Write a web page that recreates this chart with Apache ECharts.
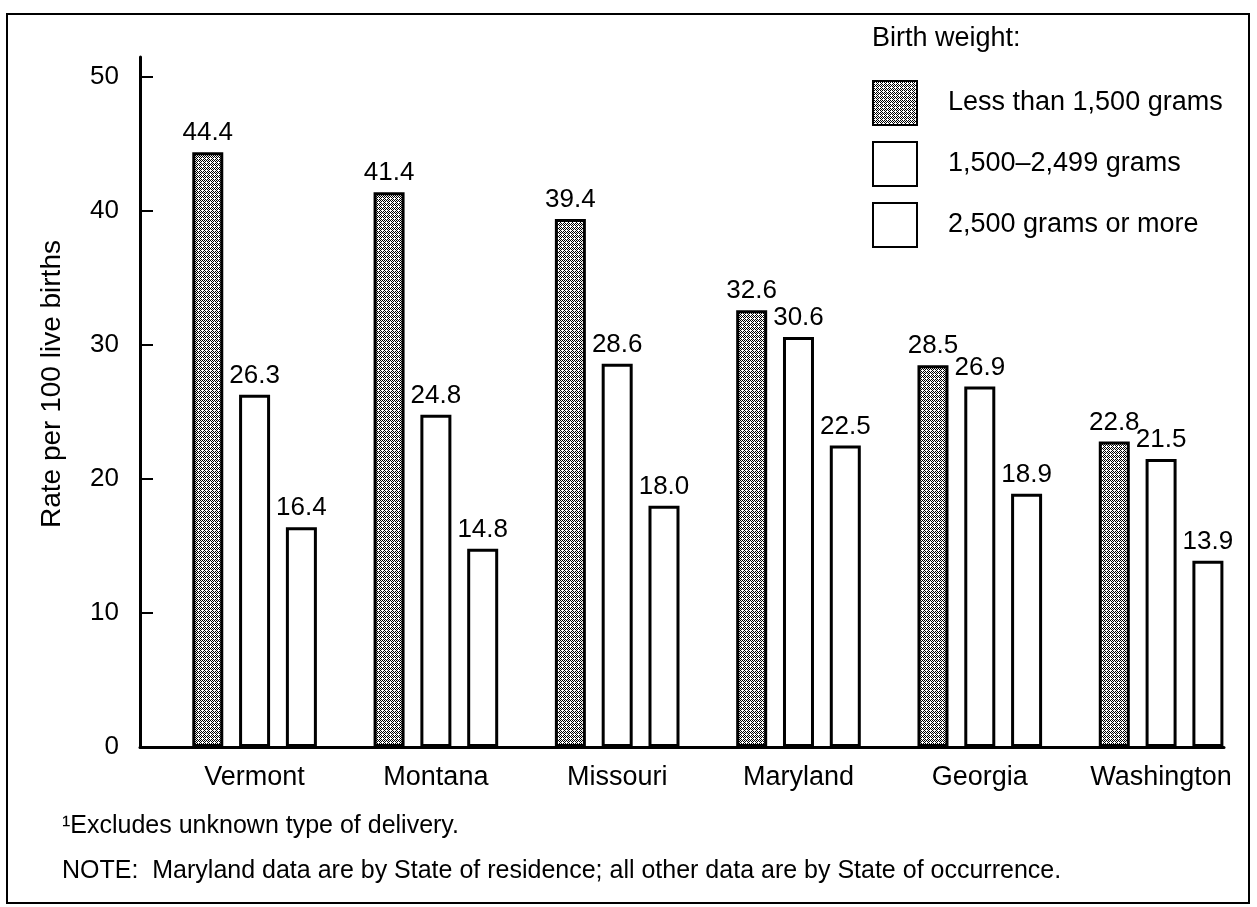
<!DOCTYPE html>
<html>
<head>
<meta charset="utf-8">
<script src="https://cdn.jsdelivr.net/npm/echarts@6/dist/echarts.min.js"></script>
<style>
  html, body { margin: 0; padding: 0; background: #fff; }
  #chart { width: 1257px; height: 907px; }
</style>
</head>
<body>
<div id="chart"></div>
<script>
// Cesarean rates by birth weight, selected States
const states = ['Vermont', 'Montana', 'Missouri', 'Maryland', 'Georgia', 'Washington'];
const seriesNames = ['Less than 1,500 grams', '1,500–2,499 grams', '2,500 grams or more'];
const under1500 = [44.4, 41.4, 39.4, 32.6, 28.5, 22.8];
const from1500to2499 = [26.3, 24.8, 28.6, 30.6, 26.9, 21.5];
const over2500 = [16.4, 14.8, 18.0, 22.5, 18.9, 13.9];
const yTicks = [0, 10, 20, 30, 40, 50];
const stateSlots = [0, 1, 2, 3, 4, 5];

const legendTitle = 'Birth weight:';
const yAxisTitle = 'Rate per 100 live births';
const footnote = '\u00B9Excludes unknown type of delivery.';
const note = 'NOTE:  Maryland data are by State of residence; all other data are by State of occurrence.';

const FONT = '"Liberation Sans", Arial, Helvetica, sans-serif';

// Dot-screen fill used for the lowest birth-weight group
function stipple() {
  const c = document.createElement('canvas');
  c.width = 4; c.height = 4;
  const ctx = c.getContext('2d');
  ctx.fillStyle = '#fff';
  ctx.fillRect(0, 0, 4, 4);
  ctx.fillStyle = '#000';
  [[0, 0], [2, 0], [1, 1], [3, 1], [0, 2], [1, 3], [3, 3]].forEach(([x, y]) => ctx.fillRect(x, y, 1, 1));
  return c;
}

const fills = [{ image: stipple(), repeat: 'repeat' }, '#fff', '#fff'];
const values = [under1500, from1500to2499, over2500];

const series = seriesNames.map((name, k) => ({
  name,
  type: 'bar',
  data: states.map((s, i) => [stateSlots[i], values[k][i]]),
  barWidth: 31,
  barGap: '51%',
  itemStyle: { color: fills[k], borderColor: '#000', borderWidth: 3 },
  label: {
    show: true,
    position: 'top',
    distance: 6,
    fontFamily: FONT,
    fontSize: 26,
    color: '#000',
    formatter: p => p.value[1].toFixed(1)
  }
}));

const chart = echarts.init(document.getElementById('chart'), null, { renderer: 'canvas' });
chart.setOption({
  animation: false,
  backgroundColor: '#fff',
  textStyle: { fontFamily: FONT, color: '#000' },
  title: {
    text: legendTitle,
    left: 872,
    top: 25,
    padding: 0,
    textStyle: { fontFamily: FONT, fontSize: 27, fontWeight: 'normal', color: '#000' }
  },
  legend: {
    orient: 'vertical',
    left: 872,
    top: 80,
    padding: 0,
    icon: 'rect',
    itemWidth: 44,
    itemHeight: 44,
    itemGap: 15,
    selectedMode: false,
    data: seriesNames,
    textStyle: { fontFamily: FONT, fontSize: 27, color: '#000', padding: [0, 0, 0, 26] }
  },
  grid: { left: 140, right: 33, top: 57, bottom: 160, outerBoundsMode: 'none' },
  xAxis: {
    type: 'value',
    min: -0.632,
    max: 5.347,
    axisLine: { show: true, onZero: false, lineStyle: { color: '#000', width: 3 } },
    axisTick: { show: false },
    splitLine: { show: false },
    axisLabel: {
      customValues: stateSlots,
      formatter: v => states[Math.round(v)],
      margin: 17,
      fontFamily: FONT,
      fontSize: 27,
      color: '#000'
    }
  },
  yAxis: {
    type: 'value',
    min: 0,
    max: 51.5,
    name: yAxisTitle,
    nameLocation: 'middle',
    nameGap: 74,
    nameRotate: 90,
    nameTextStyle: { fontFamily: FONT, fontSize: 28, color: '#000', padding: [0, 0, 0, 36] },
    axisLine: { show: true, onZero: false, lineStyle: { color: '#000', width: 3 } },
    axisTick: { show: true, inside: true, length: 13, customValues: yTicks, lineStyle: { color: '#000', width: 2 } },
    axisLabel: { customValues: yTicks, margin: 21, fontFamily: FONT, fontSize: 26, color: '#000' },
    splitLine: { show: false }
  },
  graphic: [
    {
      type: 'rect',
      shape: { x: 7, y: 14, width: 1242, height: 889 },
      style: { fill: 'none', stroke: '#000', lineWidth: 2 },
      silent: true
    },
    {
      type: 'text',
      left: 62,
      top: 814,
      style: { text: footnote, font: '25px ' + FONT, fill: '#000' }
    },
    {
      type: 'text',
      left: 62,
      top: 859,
      style: { text: note, font: '25px ' + FONT, fill: '#000' }
    }
  ],
  series
});
</script>
</body>
</html>
